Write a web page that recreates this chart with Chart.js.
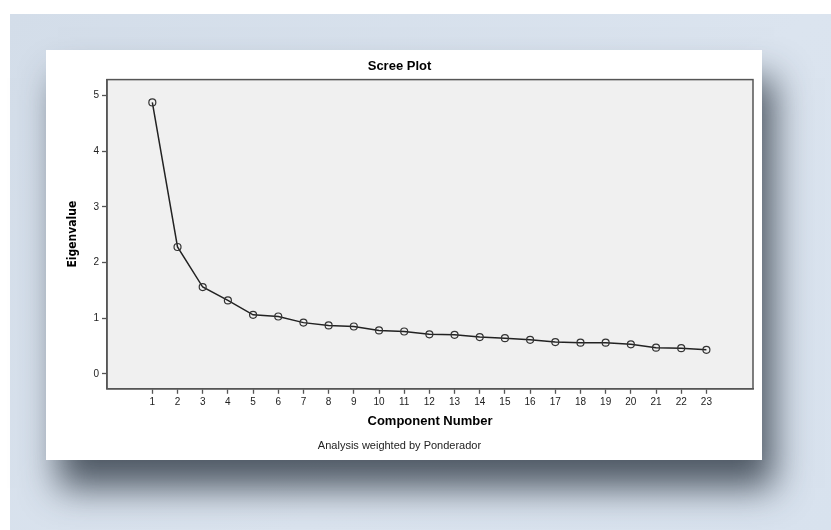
<!DOCTYPE html>
<html lang="en">
  <head>
    <meta charset="UTF-8" />
    <title>Scree Plot</title>
    <style>
      body {
        margin: 0;
        background: #fff;
        font-family: "Liberation Sans", Arial, sans-serif;
      }
      #panel {
        position: absolute;
        left: 10px;
        top: 14px;
        width: 821px;
        height: 516px;
        background: linear-gradient(135deg, #d3dde9 0%, #dbe4ef 60%, #d8e2ee 100%);
      }
      #card {
        position: absolute;
        left: 46px;
        top: 50px;
        width: 716px;
        height: 410px;
        background: #fff;
        box-shadow: 12px 28px 34px rgba(40, 50, 62, 0.78);
      }
    </style>
  </head>
  <body>
    <div id="panel"></div>
    <div id="card"><canvas id="scree"></canvas></div>

    <script src="https://cdn.jsdelivr.net/npm/chart.js@4.4.1/dist/chart.umd.min.js"></script>
    <script>
      const components = [1, 2, 3, 4, 5, 6, 7, 8, 9, 10, 11, 12, 13, 14, 15, 16, 17, 18, 19, 20, 21, 22, 23];
      const eigenvalues = [4.88, 2.28, 1.56, 1.32, 1.06, 1.03, 0.92, 0.87, 0.85, 0.78, 0.76, 0.71, 0.70, 0.66, 0.64, 0.61, 0.57, 0.56, 0.56, 0.53, 0.47, 0.46, 0.43];
      const yTicks = [0, 1, 2, 3, 4, 5];

      const axisColor = "#555";

      // grey plot background + frame on all four sides
      const plotFrame = {
        id: "plotFrame",
        beforeDraw(chart) {
          const { ctx, chartArea: a } = chart;
          ctx.save();
          ctx.fillStyle = "#f0f0f0";
          ctx.fillRect(a.left, a.top, a.right - a.left, a.bottom - a.top);
          ctx.restore();
        },
        afterDraw(chart) {
          const { ctx, chartArea: a } = chart;
          ctx.save();
          ctx.strokeStyle = axisColor;
          ctx.lineWidth = 1.5;
          ctx.strokeRect(a.left, a.top, a.right - a.left, a.bottom - a.top);
          ctx.restore();
        },
      };

      const canvas = document.getElementById("scree");
      canvas.width = 716;
      canvas.height = 410;

      new Chart(canvas, {
        type: "line",
        data: {
          datasets: [
            {
              data: components.map((c, i) => ({ x: c, y: eigenvalues[i] })),
              borderColor: "#222",
              borderWidth: 1.5,
              pointRadius: 3.5,
              pointBorderWidth: 1.2,
              pointBorderColor: "#333",
              pointBackgroundColor: "rgba(0,0,0,0)",
              tension: 0,
            },
          ],
        },
        options: {
          responsive: false,
          animation: false,
          layout: { padding: { right: 9 } },
          plugins: {
            legend: { display: false },
            tooltip: { enabled: false },
            title: {
              display: true,
              text: "Scree Plot",
              color: "#000",
              font: { family: "Liberation Sans", size: 13, weight: "bold" },
              padding: { top: 9, bottom: 5 },
            },
            subtitle: {
              display: true,
              position: "bottom",
              text: "Analysis weighted by Ponderador",
              color: "#222",
              font: { family: "Liberation Sans", size: 11 },
              padding: { top: 7, bottom: 7 },
            },
          },
          scales: {
            x: {
              type: "linear",
              min: -0.8,
              max: 24.85,
              afterBuildTicks: s => (s.ticks = components.map(v => ({ value: v }))),
              afterFit: s => (s.height = 44),
              ticks: {
                autoSkip: false,
                maxRotation: 0,
                color: "#222",
                padding: 2,
                font: { family: "Liberation Sans", size: 10 },
              },
              grid: {
                drawOnChartArea: false,
                drawTicks: true,
                tickLength: 5,
                tickWidth: 1.3,
                tickColor: axisColor,
              },
              border: { display: true, color: axisColor, width: 1.5 },
              title: {
                display: true,
                text: "Component Number",
                color: "#000",
                font: { family: "Liberation Sans", size: 13, weight: "bold" },
                padding: { top: 0, bottom: 4 },
              },
            },
            y: {
              min: -0.27,
              max: 5.29,
              afterBuildTicks: s => (s.ticks = yTicks.map(v => ({ value: v }))),
              afterFit: s => (s.width = 61),
              ticks: {
                color: "#222",
                padding: 3,
                font: { family: "Liberation Sans", size: 10 },
              },
              grid: {
                drawOnChartArea: false,
                drawTicks: true,
                tickLength: 5,
                tickWidth: 1.3,
                tickColor: axisColor,
              },
              border: { display: true, color: axisColor, width: 1.5 },
              title: {
                display: true,
                text: "Eigenvalue",
                color: "#000",
                font: { family: "'Liberation Sans Narrow', 'DejaVu Sans Condensed', sans-serif", size: 12, weight: "bold" },
                padding: { top: 20, bottom: 0 },
              },
            },
          },
        },
        plugins: [plotFrame],
      });
    </script>
  </body>
</html>
